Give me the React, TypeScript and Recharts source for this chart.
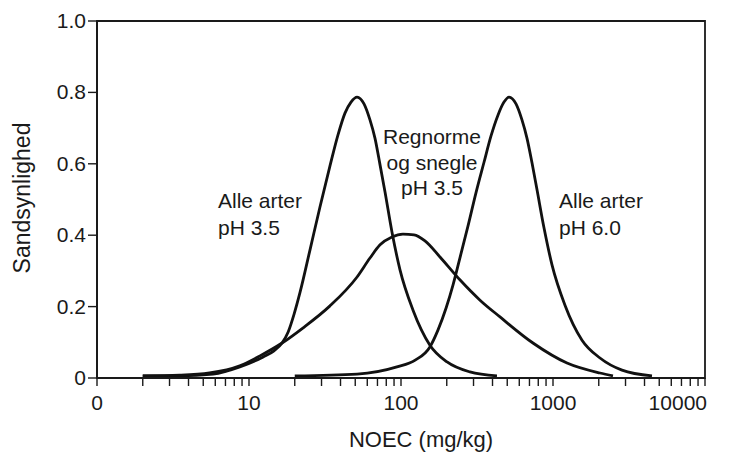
import { LineChart, Line, XAxis, YAxis, ReferenceArea } from 'recharts'

// NOEC values (mg/kg) and probability for each species-sensitivity curve
const alleArterPh35X = [2, 3.5, 5.8, 8.7, 12.4, 14.6, 16.5, 18.1, 19.8, 21.7, 25.2, 29.3, 34.1, 38.5, 42.8, 46.9, 51.4, 57.1, 62.5, 67.4, 72.8, 78.5, 87.2, 98.5, 120, 155, 201, 284, 428]
const alleArterPh35Y = [0.006, 0.006, 0.011, 0.031, 0.059, 0.076, 0.098, 0.129, 0.179, 0.241, 0.359, 0.479, 0.594, 0.681, 0.742, 0.773, 0.787, 0.768, 0.723, 0.672, 0.597, 0.521, 0.409, 0.303, 0.19, 0.092, 0.045, 0.017, 0.006]

const regnormeX = [2, 3.5, 5.5, 8.7, 11.8, 16.5, 22.6, 34.1, 51.4, 62.5, 72.8, 87.2, 103, 121.8, 143.8, 180.5, 244, 331, 448, 738, 1236, 2038, 2481]
const regnormeY = [0.006, 0.008, 0.014, 0.034, 0.062, 0.098, 0.14, 0.202, 0.283, 0.336, 0.373, 0.395, 0.403, 0.401, 0.384, 0.339, 0.275, 0.218, 0.171, 0.098, 0.042, 0.014, 0.006]

const alleArterPh60X = [20, 51.4, 94, 124, 155, 175, 198, 220, 244, 276, 311, 352, 391, 435, 476, 514, 571, 625, 674, 728, 785, 873, 985, 1199, 1552, 2038, 2844, 4480]
const alleArterPh60Y = [0.006, 0.011, 0.031, 0.05, 0.087, 0.134, 0.196, 0.261, 0.336, 0.426, 0.518, 0.605, 0.678, 0.737, 0.773, 0.787, 0.768, 0.723, 0.672, 0.602, 0.527, 0.42, 0.317, 0.204, 0.106, 0.056, 0.022, 0.006]

const majorTicks = [1, 10, 100, 1000, 10000]
const majorLabels = ['0', '10', '100', '1000', '10000']
const yTicks = [0, 0.2, 0.4, 0.6, 0.8, 1]

// minor ticks 2..9 within each decade
const xTicks = [
  ...majorTicks,
  ...majorTicks.slice(0, -1).flatMap(d => [2, 3, 4, 5, 6, 7, 8, 9].map(m => m * d)),
].sort((a, b) => a - b)

const toPoints = (xs: number[], ys: number[]) => xs.map((x, i) => ({ x, y: ys[i] }))

const FONT = 'Arial, "Liberation Sans", Helvetica, sans-serif'
const INK = '#1a1a1a'

const XTick = (props: any) => {
  const { x, y, payload } = props
  const i = majorTicks.indexOf(payload.value)
  if (i < 0) return <g />
  const last = i === majorTicks.length - 1
  return (
    <text x={last ? x + 2 : x} y={y + 22} textAnchor={last ? 'end' : 'middle'} fontSize={21} fontFamily={FONT} fill={INK}>
      {majorLabels[i]}
    </text>
  )
}

const YTick = (props: any) => {
  const { x, y, payload } = props
  const v = payload.value
  const label = v === 0 ? '0' : v.toFixed(1)
  return (
    <text x={x} y={y + 7} textAnchor="end" fontSize={21} fontFamily={FONT} fill={INK}>
      {label}
    </text>
  )
}

const curveProps = {
  type: 'monotone' as const,
  dataKey: 'y',
  stroke: '#111',
  strokeWidth: 2.8,
  dot: false,
  isAnimationActive: false,
}

export default function App() {
  return (
    <div style={{ position: 'absolute', left: 0, top: 0, width: 731, height: 454, background: '#fff' }}>
      <LineChart width={731} height={454} margin={{ top: 21, right: 26, left: 0, bottom: 0 }}>
        <XAxis
          type="number"
          dataKey="x"
          scale="log"
          domain={[1, 10000]}
          allowDataOverflow
          ticks={xTicks}
          interval={0}
          tick={<XTick />}
          tickSize={8}
          height={76}
          axisLine={{ stroke: INK, strokeWidth: 1.8 }}
          tickLine={{ stroke: INK, strokeWidth: 1.4 }}
        />
        <YAxis
          type="number"
          domain={[0, 1]}
          ticks={yTicks}
          interval={0}
          tick={<YTick />}
          tickSize={9}
          width={97}
          axisLine={{ stroke: INK, strokeWidth: 2 }}
          tickLine={{ stroke: INK, strokeWidth: 1.4 }}
        />
        <ReferenceArea x1={1} x2={10000} y1={0} y2={1} fill="none" stroke={INK} strokeWidth={1.8} ifOverflow="visible" />
        <Line {...curveProps} data={toPoints(alleArterPh35X, alleArterPh35Y)} />
        <Line {...curveProps} data={toPoints(regnormeX, regnormeY)} />
        <Line {...curveProps} data={toPoints(alleArterPh60X, alleArterPh60Y)} />

        <text x={421} y={447} textAnchor="middle" fontSize={22} fontFamily={FONT} fill={INK}>NOEC (mg/kg)</text>
        <text x={30} y={198} transform="rotate(-90 30 198)" textAnchor="middle" fontSize={23} fontFamily={FONT} fill={INK}>Sandsynlighed</text>

        <g fontSize={21} fontFamily={FONT} fill={INK}>
          <text x={218} y={208}>Alle arter</text>
          <text x={218} y={235}>pH 3.5</text>
          <text x={432} y={144} textAnchor="middle">Regnorme</text>
          <text x={432} y={170} textAnchor="middle">og snegle</text>
          <text x={432} y={195} textAnchor="middle">pH 3.5</text>
          <text x={559} y={208}>Alle arter</text>
          <text x={559} y={235}>pH 6.0</text>
        </g>
      </LineChart>
    </div>
  )
}
